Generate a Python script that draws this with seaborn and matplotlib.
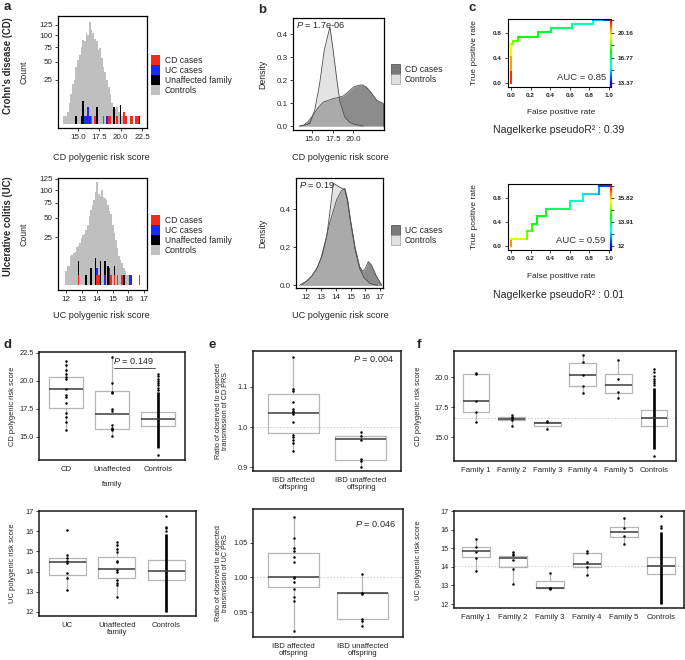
import numpy as np
import pandas as pd
import matplotlib
matplotlib.use("Agg")
import matplotlib.pyplot as plt
import seaborn as sns
from matplotlib.collections import LineCollection
from matplotlib.colors import LinearSegmentedColormap, Normalize
from matplotlib.patches import Patch

# ---------------- data ----------------
# panel a (top): CD PRS histogram, bin width 0.2
cd_ctrl_bins = [13.4, 13.6, 13.8, 14.0, 14.2, 14.4, 14.6, 14.8, 15.0, 15.2, 15.4, 15.6, 15.8, 16.0, 16.2, 16.4,
                16.6, 16.8, 17.0, 17.2, 17.4, 17.6, 17.8, 18.0, 18.2, 18.4, 18.6, 18.8, 19.0, 19.2, 19.4, 19.6,
                19.8, 20.0, 20.2]
cd_ctrl_counts = [1, 1, 2, 6, 12, 21, 25, 42, 52, 61, 76, 90, 87, 105, 101, 133,
                  113, 105, 93, 87, 70, 73, 55, 42, 35, 25, 18, 12, 6, 4, 3, 4,
                  2, 1, 1]
cd_cdcase_bins = [16.6, 17.0, 18.0, 18.6, 18.8, 19.6, 20.4, 20.6, 21.2, 21.4, 21.8, 22.0]
cd_cdcase_counts = [1, 1, 1, 1, 1, 1, 2, 1, 1, 1, 1, 1]
cd_uccase_bins = [15.8, 16.0, 16.2, 16.4, 17.0, 18.4]
cd_uccase_counts = [1, 1, 4, 1, 1, 1]
cd_fam_bins = [14.8, 15.4, 15.6, 16.2, 16.6, 17.2, 18.6, 19.2, 20.0, 22.2]
cd_fam_counts = [1, 1, 7, 2, 1, 4, 1, 4, 5, 1]

# panel a (bottom): UC PRS histogram, bin width 0.1
uc_ctrl_bins = [12.0, 12.1, 12.2, 12.3, 12.4, 12.5, 12.6, 12.7, 12.8, 12.9, 13.0, 13.1, 13.2, 13.3, 13.4, 13.5,
                13.6, 13.7, 13.8, 13.9, 14.0, 14.1, 14.2, 14.3, 14.4, 14.5, 14.6, 14.7, 14.8, 14.9, 15.0, 15.1,
                15.2, 15.3, 15.4, 15.5, 15.6, 15.7, 15.8, 15.9, 16.0, 16.1]
uc_ctrl_counts = [2, 4, 4, 9, 10, 11, 12, 16, 17, 19, 24, 27, 29, 33, 40, 52,
                  62, 71, 80, 95, 118, 92, 88, 100, 86, 83, 80, 70, 60, 55, 40, 30,
                  22, 15, 9, 7, 5, 3, 2, 1, 1, 1]
uc_cdcase_bins = [12.8, 14.0, 14.1, 14.9, 15.1, 15.3, 15.6, 16.7]
uc_cdcase_counts = [1, 1, 1, 1, 1, 1, 1, 1]
uc_uccase_bins = [14.0, 14.5, 14.8, 16.1, 16.2]
uc_uccase_counts = [3, 1, 3, 1, 1]
uc_fam_bins = [12.8, 13.3, 13.6, 13.9, 14.2, 14.5, 14.7, 15.1, 15.3, 15.7]
uc_fam_counts = [6, 1, 3, 8, 6, 6, 4, 4, 1, 1]

# panel b: density curves
cd_dens_ctrl_x = [13.5, 14.0, 14.7, 15.3, 15.9, 16.45, 16.75, 17.15, 17.55, 17.95, 18.35, 18.95, 19.5, 20.0, 21.2]
cd_dens_ctrl_y = [0, 0.004, 0.012, 0.07, 0.185, 0.33, 0.375, 0.433, 0.33, 0.215, 0.11, 0.04, 0.018, 0.009, 0]
cd_dens_case_x = [13.4, 14.0, 14.5, 15.1, 15.7, 16.35, 17.0, 17.55, 18.2, 18.8, 19.4, 20.0, 20.6, 21.1, 21.6,
                  22.2, 22.85, 23.6]
cd_dens_case_y = [0, 0.005, 0.02, 0.048, 0.08, 0.105, 0.113, 0.12, 0.125, 0.132, 0.15, 0.17, 0.178, 0.18, 0.17,
                  0.145, 0.113, 0.1]
uc_dens_ctrl_x = [11.55, 12.0, 12.4, 12.8, 13.1, 13.4, 13.6, 13.84, 14.0, 14.3, 14.6, 14.8, 15.0, 15.3, 15.6,
                  15.9, 16.3, 16.8]
uc_dens_ctrl_y = [0, 0.02, 0.05, 0.1, 0.16, 0.26, 0.38, 0.537, 0.53, 0.515, 0.505, 0.44, 0.33, 0.19, 0.09,
                  0.04, 0.01, 0]
uc_dens_case_x = [11.7, 12.2, 12.7, 13.0, 13.3, 13.6, 14.06, 14.4, 14.62, 14.8, 14.96, 15.3, 15.6, 15.8, 15.97,
                  16.19, 16.4, 16.75, 17.1]
uc_dens_case_y = [0, 0.03, 0.08, 0.14, 0.23, 0.33, 0.45, 0.5, 0.51, 0.45, 0.36, 0.2, 0.1, 0.075, 0.085,
                  0.125, 0.107, 0.046, 0]

# panel c: ROC curves (fpr, tpr, cutoff)
roc_cd_fpr = [0, 0, 0, 0, 0.02, 0.02, 0.07, 0.07, 0.28, 0.28, 0.41, 0.41, 0.62, 0.62, 0.84, 0.84, 0.95, 1.0]
roc_cd_tpr = [0, 0.2, 0.45, 0.62, 0.62, 0.665, 0.665, 0.74, 0.74, 0.81, 0.81, 0.87, 0.87, 0.94, 0.94, 1.0, 1.0, 1.0]
roc_cd_cut = [21.85, 21.0, 20.0, 19.2, 18.9, 18.6, 18.3, 17.9, 17.5, 17.4, 17.2, 17.0, 16.6, 16.4, 15.9, 15.6,
              14.5, 13.37]
roc_uc_fpr = [0, 0, 0.166, 0.166, 0.21, 0.21, 0.27, 0.27, 0.356, 0.356, 0.6, 0.6, 0.73, 0.73, 0.9, 0.9, 1.0]
roc_uc_tpr = [0, 0.125, 0.125, 0.25, 0.25, 0.375, 0.375, 0.5, 0.5, 0.625, 0.625, 0.75, 0.75, 0.875, 0.875, 1.0, 1.0]
roc_uc_cut = [16.4, 15.8, 15.0, 14.85, 14.7, 14.55, 14.45, 14.35, 14.2, 14.05, 13.75, 13.55, 13.35, 13.2, 12.9,
              12.6, 12.0]
roc_cd_cbar = ["13.37", "16.77", "20.16"]
roc_uc_cbar = ["12", "13.91", "15.82"]

# panel d
d_cd_cats = ["CD", "Unaffected", "Controls"]
d_cd_q1 = [17.55, 15.7, 15.95]
d_cd_med = [19.3, 17.05, 16.6]
d_cd_q3 = [20.3, 19.05, 17.2]
d_cd_lo = [15.6, 15.05, 14.1]
d_cd_hi = [21.8, 22.1, 19.0]
d_cd_pts = [[21.8, 21.4, 21.0, 20.6, 20.3, 20.2, 19.3, 18.7, 18.6, 18.0, 17.1, 16.8, 16.3, 15.6],
            [22.1, 19.8, 19.0, 18.9, 17.5, 17.3, 16.1, 15.8, 15.7, 15.6, 15.05],
            [13.4, 19.2, 19.4, 19.6, 19.8, 20.0, 20.2, 20.4, 20.6]]
d_cd_dense = (14.0, 19.0)

d_uc_cats = ["UC", "Unaffected\nfamily", "Controls"]
d_uc_q1 = [13.83, 13.7, 13.6]
d_uc_med = [14.46, 14.15, 14.05]
d_uc_q3 = [14.69, 14.72, 14.55]
d_uc_lo = [13.09, 12.75, 12.0]
d_uc_hi = [14.82, 15.45, 15.85]
d_uc_pts = [[16.06, 14.82, 14.66, 14.52, 14.41, 13.92, 13.67, 13.09],
            [15.45, 15.3, 15.1, 14.95, 14.5, 14.45, 14.1, 14.0, 13.6, 13.45, 13.35, 12.75],
            [16.0, 16.15, 16.2, 16.75]]
d_uc_dense = (12.0, 15.85)

# panel e
e_cats = ["IBD affected\noffspring", "IBD unaffected\noffspring"]
e_cd_q1 = [0.986, 0.917]
e_cd_med = [1.036, 0.970]
e_cd_q3 = [1.082, 0.977]
e_cd_lo = [0.94, 0.90]
e_cd_hi = [1.175, 0.988]
e_cd_pts = [[1.175, 1.094, 1.09, 1.062, 1.044, 1.04, 1.037, 1.033, 1.013, 0.98, 0.976, 0.967, 0.96, 0.94],
            [0.988, 0.978, 0.967, 0.919, 0.915, 0.90]]
e_uc_q1 = [0.986, 0.94]
e_uc_med = [1.0, 0.977]
e_uc_q3 = [1.035, 0.977]
e_uc_lo = [0.922, 0.93]
e_uc_hi = [1.088, 1.005]
e_uc_pts = [[1.088, 1.057, 1.042, 1.039, 1.030, 1.023, 1.001, 0.999, 0.993, 0.984, 0.972, 0.966, 0.922],
            [1.005, 0.977, 0.976, 0.94, 0.937, 0.93]]

# panel f
f_cats = ["Family 1", "Family 2", "Family 3", "Family 4", "Family 5", "Controls"]
f_cd_q1 = [17.1, 16.45, 15.92, 19.28, 18.64, 15.95]
f_cd_med = [18.0, 16.5, 16.2, 20.17, 19.3, 16.6]
f_cd_q3 = [20.22, 16.7, 16.28, 21.14, 20.22, 17.25]
f_cd_lo = [16.28, 15.95, 15.67, 18.64, 18.28, 14.0]
f_cd_hi = [20.3, 16.8, 16.33, 21.83, 21.4, 19.1]
f_cd_pts = [[20.3, 20.25, 18.0, 17.1, 16.28],
            [16.8, 16.7, 16.55, 16.45, 15.95],
            [16.33, 16.25, 15.67],
            [21.83, 21.28, 20.17, 19.28, 18.64],
            [21.4, 19.83, 18.78, 18.28],
            [13.4, 19.3, 19.5, 19.7, 19.85, 20.1, 20.4, 20.65]]
f_cd_dense = (14.0, 19.1)
f_uc_q1 = [14.51, 13.99, 12.84, 14.0, 15.59, 13.6]
f_uc_med = [14.85, 14.45, 12.88, 14.15, 15.85, 14.06]
f_uc_q3 = [15.05, 14.6, 13.25, 14.72, 16.16, 14.54]
f_uc_lo = [13.79, 13.06, 12.79, 13.56, 15.23, 12.0]
f_uc_hi = [15.5, 14.81, 13.65, 14.87, 16.6, 15.85]
f_uc_pts = [[15.5, 15.08, 14.81, 14.49, 13.79],
            [14.81, 14.7, 14.62, 14.37, 13.88, 13.06],
            [13.65, 12.88, 12.85, 12.79],
            [14.87, 14.76, 14.27, 14.0, 13.56],
            [16.6, 16.07, 15.67, 15.23],
            [16.1, 16.2, 16.75]]
f_uc_dense = (12.0, 15.85)

# ---------------- style ----------------
sns.set_style("ticks")
plt.rcParams['font.family'] = ['Liberation Sans', 'DejaVu Sans']
plt.rcParams['mathtext.fontset'] = 'custom'
plt.rcParams['mathtext.rm'] = 'Liberation Sans'
plt.rcParams['mathtext.it'] = 'Liberation Sans:italic'
plt.rcParams['axes.linewidth'] = 0.9
plt.rcParams['axes.edgecolor'] = 'black'

RED, BLUE, BLACK, GRAY = '#f42a1e', '#1c2bf2', '#000000', '#bfbfbf'
BOXC = '#b5b5b5'

W, H = 685, 660
fig = plt.figure(figsize=(W / 100, H / 100), dpi=100)


def add_ax(l, t, r, b):
    return fig.add_axes([l / W, 1 - b / H, (r - l) / W, (b - t) / H])


def ftext(x, y, s, **kw):
    kw.setdefault('ha', 'center')
    kw.setdefault('va', 'center')
    return fig.text(x / W, 1 - y / H, s, **kw)


def sq_f(y):
    y = np.asarray(y, dtype=float)
    return np.sign(y) * np.sqrt(np.abs(y))


def sq_i(y):
    y = np.asarray(y, dtype=float)
    return np.sign(y) * y ** 2


def hist(ax, bins, counts, bw, color):
    sns.histplot(x=bins, weights=counts, binwidth=bw,
                 binrange=(min(bins) - bw / 2, max(bins) + bw / 2),
                 color=color, alpha=1, linewidth=0, ax=ax)


def style_ab(ax):
    ax.tick_params(length=2.5, width=0.6, labelsize=5.8, pad=1.5)
    for s in ax.spines.values():
        s.set_visible(True)
        s.set_linewidth(0.9)
    ax.set_xlabel('')
    ax.set_ylabel('')


# ---------------- panel a ----------------
for (t, b, ctrl_b, ctrl_c, bw, cdb, cdc, ucb, ucc, fb, fc, xlim, ylim, xt, xtl, title, ty, xl, xly, legy) in [
    (16, 128, cd_ctrl_bins, cd_ctrl_counts, 0.2, cd_cdcase_bins, cd_cdcase_counts, cd_uccase_bins,
     cd_uccase_counts, cd_fam_bins, cd_fam_counts, (12.66, 23.09), (-0.155, 148.6),
     [15.0, 17.5, 20.0, 22.5], ["15.0", "17.5", "20.0", "22.5"], "Crohn's disease (CD)", 66,
     "CD polygenic risk score", 157, 55),
    (178, 290, uc_ctrl_bins, uc_ctrl_counts, 0.1, uc_cdcase_bins, uc_cdcase_counts, uc_uccase_bins,
     uc_uccase_counts, uc_fam_bins, uc_fam_counts, (11.49, 17.19), (-0.33, 127.0),
     [12, 13, 14, 15, 16, 17], ["12", "13", "14", "15", "16", "17"], "Ulcerative colitis (UC)", 226,
     "UC polygenic risk score", 316, 215)]:
    ax = add_ax(58, t, 147, b)
    hist(ax, ctrl_b, ctrl_c, bw, GRAY)
    hist(ax, fb, fc, bw, BLACK)
    hist(ax, ucb, ucc, bw, BLUE)
    hist(ax, cdb, cdc, bw, RED)
    ax.set_yscale('function', functions=(sq_f, sq_i))
    ax.set_xlim(*xlim)
    ax.set_ylim(*ylim)
    ax.set_yticks([25, 50, 75, 100, 125])
    ax.set_yticklabels(["25", "50", "75", "100", "125"])
    ax.set_xticks(xt)
    ax.set_xticklabels(xtl)
    ax.minorticks_off()
    style_ab(ax)
    ftext(24, (t + b) / 2, "Count", rotation=90, fontsize=6.3)
    ftext(8, ty, title, rotation=90, fontsize=6.9, fontweight='bold')
    ftext(101, xly, xl, fontsize=6.6)
    handles = [Patch(facecolor=RED, lw=0), Patch(facecolor=BLUE, lw=0),
               Patch(facecolor=BLACK, lw=0), Patch(facecolor=GRAY, lw=0)]
    ax.legend(handles, ["CD cases", "UC cases", "Unaffected family", "Controls"],
              loc='upper left', bbox_to_anchor=(151 / W, 1 - legy / H), bbox_transform=fig.transFigure,
              frameon=False, fontsize=6.2, handlelength=1.1, handleheight=1.35, labelspacing=0.05,
              handletextpad=0.5, borderpad=0, borderaxespad=0)

# ---------------- panel b ----------------
for (l, t, r, b, cx, cy, kx, ky, xlim, ylim, xt, xtl, yt, ytl, ptxt, lab, xly, legy) in [
    (293, 18, 384, 130, cd_dens_case_x, cd_dens_case_y, cd_dens_ctrl_x, cd_dens_ctrl_y, (12.65, 23.74),
     (-0.017, 0.472), [15.0, 17.5, 20.0], ["15.0", "17.5", "20.0"], [0, 0.1, 0.2, 0.3, 0.4],
     ["0.0", "0.1", "0.2", "0.3", "0.4"], "$P$ = 1.7e-06", "CD cases", 157, 64),
    (296, 178, 383, 288, uc_dens_case_x, uc_dens_case_y, uc_dens_ctrl_x, uc_dens_ctrl_y, (11.33, 17.18),
     (-0.014, 0.565), [12, 13, 14, 15, 16, 17], ["12", "13", "14", "15", "16", "17"], [0, 0.2, 0.4],
     ["0.0", "0.2", "0.4"], "$P$ = 0.19", "UC cases", 316, 225)]:
    ax = add_ax(l, t, r, b)
    ax.fill_between(cx, cy, 0, color='#8c8c8c', lw=0)
    ax.fill_between(kx, ky, 0, color='#c8c8c8', alpha=0.5, lw=0)
    sns.lineplot(x=cx, y=cy, color='#4d4d4d', lw=0.6, ax=ax)
    sns.lineplot(x=kx, y=ky, color='#4d4d4d', lw=0.6, ax=ax)
    ax.plot([cx[-1], cx[-1]], [cy[-1], 0], color='#4d4d4d', lw=0.6)
    ax.set_xlim(*xlim)
    ax.set_ylim(*ylim)
    ax.set_xticks(xt)
    ax.set_xticklabels(xtl)
    ax.set_yticks(yt)
    ax.set_yticklabels(ytl)
    style_ab(ax)
    ax.text(0.03, 0.985, ptxt, transform=ax.transAxes, ha='left', va='top', fontsize=6.6)
    ftext(263, (t + b) / 2, "Density", rotation=90, fontsize=6.3)
    ftext(340, xly, lab.split()[0] + " polygenic risk score", fontsize=6.6)
    handles = [Patch(facecolor='#7a7a7a', edgecolor='#444444', lw=0.5),
               Patch(facecolor='#e0e0e0', edgecolor='#9a9a9a', lw=0.5)]
    ax.legend(handles, [lab, "Controls"], loc='upper left', bbox_to_anchor=(391 / W, 1 - legy / H),
              bbox_transform=fig.transFigure, frameon=False, fontsize=6.2, handlelength=1.1,
              handleheight=1.35, labelspacing=0.05, handletextpad=0.5, borderpad=0, borderaxespad=0)

# ---------------- panel c ----------------
roc_cmap = LinearSegmentedColormap.from_list('roc', ['#0000ff', '#00ffff', '#00ff00', '#ffff00', '#ff0000'])
for (t, b, fpr, tpr, cut, lo, hi, cb, auc, r2, ylim, xly, r2y) in [
    (19, 87, roc_cd_fpr, roc_cd_tpr, roc_cd_cut, 13.37, 21.845, roc_cd_cbar, "AUC = 0.85", "0.39",
     (-0.064, 1.02), 112, 130),
    (184, 250, roc_uc_fpr, roc_uc_tpr, roc_uc_cut, 12.0, 16.775, roc_uc_cbar, "AUC = 0.59", "0.01",
     (-0.067, 1.04), 276, 295)]:
    ax = add_ax(508, t, 611, b)
    pts = np.column_stack([fpr, tpr])
    segs = np.stack([pts[:-1], pts[1:]], axis=1)
    cm = (np.array(cut[:-1]) + np.array(cut[1:])) / 2
    norm = Normalize(lo, hi)
    ax.add_collection(LineCollection(segs, colors=roc_cmap(norm(cm)), lw=1.5, capstyle='projecting'))
    ax.set_xlim(-0.03, 1.02)
    ax.set_ylim(*ylim)
    ys = np.linspace(ylim[0], ylim[1], 90)
    gsegs = [[(1.02, ys[i]), (1.02, ys[i + 1])] for i in range(len(ys) - 1)]
    gcol = roc_cmap(np.clip((ys[:-1] + ys[1:]) / 2, 0, 1))
    ax.add_collection(LineCollection(gsegs, colors=gcol, lw=1.6, clip_on=False))
    ax.spines['right'].set_visible(False)
    for s in ['left', 'top', 'bottom']:
        ax.spines[s].set_linewidth(0.8)
    ax.set_xticks([0, 0.2, 0.4, 0.6, 0.8, 1.0])
    ax.set_xticklabels(["0.0", "0.2", "0.4", "0.6", "0.8", "1.0"], fontweight='bold')
    ax.set_yticks([0, 0.4, 0.8])
    ax.set_yticklabels(["0.0", "0.4", "0.8"], fontweight='bold')
    ax.tick_params(length=2.5, width=0.6, labelsize=4.6, pad=2)
    ax2 = ax.twinx()
    ax2.set_ylim(*ylim)
    ax2.set_yticks([0, 0.2, 0.4, 0.6, 0.8, 1.0])
    ax2.set_yticklabels([cb[0], "", cb[1], "", cb[2], ""], fontweight='bold')
    ax2.tick_params(length=2.5, width=0.6, labelsize=4.6, pad=2)
    for s in ax2.spines.values():
        s.set_visible(False)
    ax.text(0.95, 0.08, auc, transform=ax.transAxes, ha='right', va='bottom', fontsize=6.8, color='#333333')
    ftext(475, (t + b) / 2, "True positive rate", rotation=90, fontsize=6.0)
    ftext(561, xly, "False positive rate", fontsize=6.0)
    ftext(559, r2y, "Nagelkerke pseudoR² : " + r2, fontsize=7.6)


# ---------------- boxplot panels ----------------
def boxes(ax, cats, q1, med, q3, lo, hi, pts, dense=None, width=0.75):
    stats = [dict(q1=a, med=m, q3=c, whislo=w0, whishi=w1, fliers=[])
             for a, m, c, w0, w1 in zip(q1, med, q3, lo, hi)]
    ax.bxp(stats, positions=list(range(len(cats))), widths=width, showfliers=False, showcaps=False,
           manage_ticks=False, boxprops=dict(color=BOXC, lw=0.9), whiskerprops=dict(color=BOXC, lw=0.9),
           medianprops=dict(color='#3a3a3a', lw=1.1))
    if dense is not None:
        ax.vlines(len(cats) - 1, dense[0], dense[1], color='black', lw=1.9)
    rows = [(c, v) for c, vals in zip(cats, pts) for v in vals]
    df = pd.DataFrame(rows, columns=['group', 'value'])
    sns.stripplot(data=df, x='group', y='value', order=cats, jitter=False, color='black', size=1.8,
                  linewidth=0, ax=ax)


def style_box(ax, cats, xlim, ylim, yt, ytl):
    ax.set_xlim(*xlim)
    ax.set_ylim(*ylim)
    ax.set_xticks(list(range(len(cats))))
    ax.set_xticklabels(cats, fontsize=5.6, linespacing=1.0)
    ax.set_yticks(yt)
    ax.set_yticklabels(ytl, fontsize=5.3)
    ax.tick_params(axis='x', length=0, pad=4)
    ax.tick_params(axis='y', length=2.2, width=0.6, pad=1.5)
    ax.set_xlabel('')
    ax.set_ylabel('')
    for s in ax.spines.values():
        s.set_visible(True)
        s.set_linewidth(1.1)
        s.set_color('#1a1a1a')


# d top
ax = add_ax(39, 352, 185, 460)
boxes(ax, d_cd_cats, d_cd_q1, d_cd_med, d_cd_q3, d_cd_lo, d_cd_hi, d_cd_pts, d_cd_dense)
style_box(ax, d_cd_cats, (-0.6, 2.6), (12.95, 22.56), [15.0, 17.5, 20.0, 22.5], ["15.0", "17.5", "20.0", "22.5"])
ax.plot([1.05, 1.95], [21.1, 21.1], color='#555555', lw=0.7)
ax.text(1.48, 21.75, "$P$ = 0.149", ha='center', va='center', fontsize=6.6)
ftext(112, 484, "family", fontsize=5.6)
ftext(12, 406, "CD polygenic risk score", rotation=90, fontsize=5.4)

# d bottom
ax = add_ax(39, 511, 196, 616)
boxes(ax, d_uc_cats, d_uc_q1, d_uc_med, d_uc_q3, d_uc_lo, d_uc_hi, d_uc_pts, d_uc_dense)
style_box(ax, d_uc_cats, (-0.57, 2.6), (11.8, 17.0), [12, 13, 14, 15, 16, 17], ["12", "13", "14", "15", "16", "17"])
ftext(12, 563, "UC polygenic risk score", rotation=90, fontsize=5.4)

# e top
ax = add_ax(253, 351, 401, 471)
ax.axhline(1.0, color='#c8c8c8', lw=0.6, ls=(0, (2, 2)))
boxes(ax, e_cats, e_cd_q1, e_cd_med, e_cd_q3, e_cd_lo, e_cd_hi, e_cd_pts)
style_box(ax, e_cats, (-0.59, 1.59), (0.89, 1.19), [0.9, 1.0, 1.1], ["0.9", "1.0", "1.1"])
ax.text(0.95, 0.93, "$P$ = 0.004", transform=ax.transAxes, ha='right', va='center', fontsize=6.6)
ftext(222, 411, "Ratio of observed to expected\ntransmission of CD PRS", rotation=90, fontsize=5.2,
      linespacing=1.1)

# e bottom
ax = add_ax(253, 509, 403, 637)
ax.axhline(1.0, color='#c8c8c8', lw=0.6, ls=(0, (2, 2)))
boxes(ax, e_cats, e_uc_q1, e_uc_med, e_uc_q3, e_uc_lo, e_uc_hi, e_uc_pts)
style_box(ax, e_cats, (-0.59, 1.59), (0.914, 1.099), [0.95, 1.0, 1.05], ["0.95", "1.00", "1.05"])
ax.text(0.95, 0.88, "$P$ = 0.046", transform=ax.transAxes, ha='right', va='center', fontsize=6.6)
ftext(222, 573, "Ratio of observed to expected\ntransmission of UC PRS", rotation=90, fontsize=5.2,
      linespacing=1.1)

# f top
ax = add_ax(454, 351, 676, 461)
ax.axhline(f_cd_med[-1], color='#c8c8c8', lw=0.6, ls=(0, (2, 2)))
boxes(ax, f_cats, f_cd_q1, f_cd_med, f_cd_q3, f_cd_lo, f_cd_hi, f_cd_pts, f_cd_dense)
style_box(ax, f_cats, (-0.62, 5.62), (13.0, 22.17), [15.0, 17.5, 20.0], ["15.0", "17.5", "20.0"])
ftext(418, 406, "CD polygenic risk score", rotation=90, fontsize=5.4)

# f bottom
ax = add_ax(454, 511, 684, 608)
ax.axhline(f_uc_med[-1], color='#c8c8c8', lw=0.6, ls=(0, (2, 2)))
boxes(ax, f_cats, f_uc_q1, f_uc_med, f_uc_q3, f_uc_lo, f_uc_hi, f_uc_pts, f_uc_dense)
style_box(ax, f_cats, (-0.59, 5.62), (11.785, 17.0), [12, 13, 14, 15, 16, 17], ["12", "13", "14", "15", "16", "17"])
ftext(418, 560, "UC polygenic risk score", rotation=90, fontsize=5.4)

# panel letters
for lx, ly, s in [(7, 7, 'a'), (262, 10, 'b'), (472, 8, 'c'), (8, 345, 'd'), (212, 345, 'e'), (419, 345, 'f')]:
    ftext(lx, ly, s, fontsize=9.5, fontweight='bold')

fig.savefig("out.png", dpi=100)
